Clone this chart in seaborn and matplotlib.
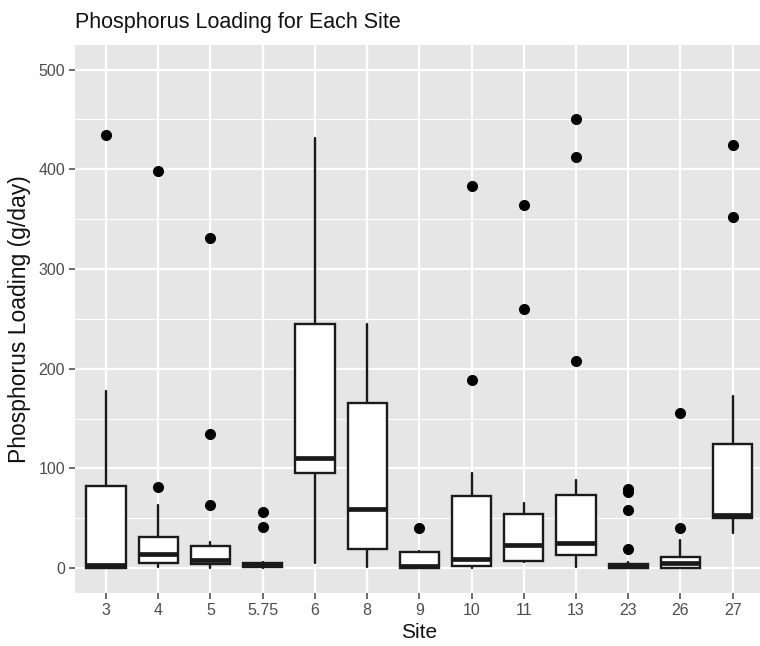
import matplotlib
matplotlib.use("Agg")
import matplotlib.pyplot as plt
import seaborn as sns
import pandas as pd

# ─────────────────────────────────────────
# DATA
# ─────────────────────────────────────────
sites  = ["3", "4", "5", "5.75", "6", "8", "9", "10", "11", "13", "23", "26", "27"]
whislo = [0, 1, 0, 0, 5, 1, 0, 0, 6, 1, 0, 0, 35]
q1     = [0, 5, 4, 1, 95, 19, 0, 2, 7, 13, 0, 0, 50]
med    = [3, 14, 8, 3, 110, 59, 2, 9, 23, 25, 2, 5, 53]
q3     = [82, 31, 22, 5, 245, 166, 16, 72, 54, 73, 4, 11, 124]
whishi = [178, 63, 26, 6, 431, 245, 17, 95, 65, 88, 6, 28, 173]
outliers = {
    "3": [434],
    "4": [398, 81],
    "5": [331, 134, 63],
    "5.75": [56, 41],
    "9": [40],
    "10": [383, 189],
    "11": [364, 260],
    "13": [450, 412, 208],
    "23": [79, 76, 58, 19],
    "26": [156, 40],
    "27": [424, 352],
}
y_ticks = [0, 100, 200, 300, 400, 500]

out_df = pd.DataFrame(
    [(s, v) for s in sites for v in outliers.get(s, [])],
    columns=["Site", "Loading"],
)

# ─────────────────────────────────────────
# STYLE — ggplot-like grey panel
# ─────────────────────────────────────────
sns.set_theme(style="darkgrid", rc={
    "axes.facecolor": "#E6E6E6",
    "grid.color": "white",
    "axes.edgecolor": "none",
})
plt.rcParams["font.family"] = ["Liberation Sans", "DejaVu Sans"]

fig = plt.figure(figsize=(7.6, 6.46), dpi=100)
ax = fig.add_axes([0.0983, 0.082, 0.907, 0.849])

stats = [
    dict(whislo=whislo[i], q1=q1[i], med=med[i], q3=q3[i], whishi=whishi[i], fliers=[])
    for i in range(len(sites))
]
ax.bxp(stats, positions=range(len(sites)), widths=0.75, showcaps=False,
       showfliers=False, patch_artist=True,
       boxprops=dict(facecolor="white", edgecolor="#1a1a1a", linewidth=1.7),
       whiskerprops=dict(color="#1a1a1a", linewidth=1.7),
       medianprops=dict(color="#1a1a1a", linewidth=3.4, solid_capstyle="butt"))

sns.stripplot(data=out_df, x="Site", y="Loading", order=sites, jitter=False,
              color="black", size=8, ax=ax, zorder=5)

ax.set_xlim(-0.6, len(sites) - 0.4)
ax.set_ylim(-25, 525)
ax.set_xticks(range(len(sites)))
ax.set_xticklabels(sites)
ax.set_yticks(y_ticks)
ax.set_yticks([50, 150, 250, 350, 450], minor=True)
ax.grid(which="major", color="white", linewidth=1.6)
ax.grid(which="minor", axis="y", color="white", linewidth=0.8)
ax.set_axisbelow(True)

ax.tick_params(axis="both", which="major", length=4, width=1.1, color="#444444",
               labelsize=11.5, labelcolor="#4d4d4d", pad=3, bottom=True, left=True)
ax.tick_params(axis="both", which="minor", length=0)

ax.set_title("Phosphorus Loading for Each Site", loc="left", fontsize=15.5,
             color="#111111", pad=12)
ax.set_xlabel("Site", fontsize=15, color="#111111", labelpad=4)
ax.set_ylabel("Phosphorus Loading (g/day)", fontsize=16.5, color="#111111", labelpad=5)

plt.savefig("out.png", dpi=100)
print("saved out.png")
